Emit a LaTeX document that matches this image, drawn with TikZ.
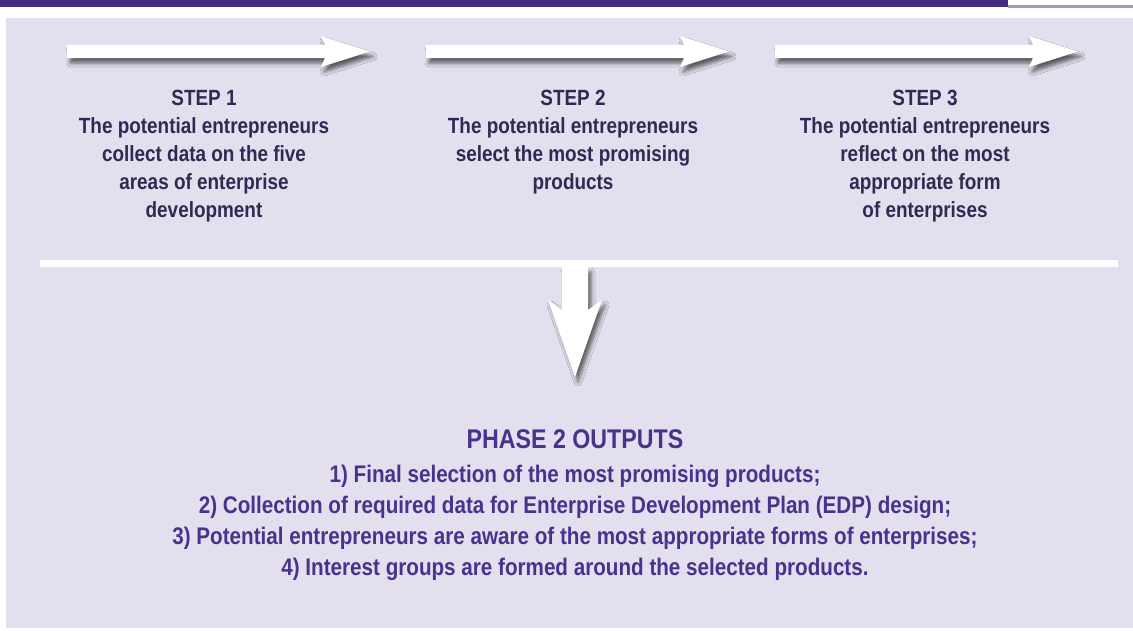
\documentclass[tikz,border=0pt]{standalone}
\usepackage{fontspec}
\setmainfont{Liberation Sans}[FakeStretch=0.86]
\usepackage{xcolor}
\usepackage{tikz}
\usetikzlibrary{positioning, shadows.blur}

\definecolor{bannerpurple}{HTML}{452C80}
\definecolor{bannerline}{HTML}{A395C8}
\definecolor{panel}{HTML}{E4DFEE}
\definecolor{stepink}{HTML}{2D2B52}
\definecolor{outink}{HTML}{47328C}

\begin{document}
\begin{tikzpicture}[
        x=1pt, y=-1pt,
        steptext/.style={align=center, inner sep=0pt, anchor=north, text=stepink, font=\fontsize{22}{28}\selectfont\bfseries},
        heading/.style={inner sep=0pt, anchor=north, text=outink, font=\fontsize{27}{32}\selectfont\bfseries},
        outlist/.style={align=center, inner sep=0pt, text=outink, font=\fontsize{24}{31}\selectfont\bfseries},
        bigarrow/.style={fill=white, blur shadow={shadow xshift=3pt, shadow yshift=-5pt, shadow blur radius=4pt, shadow opacity=60}}
    ]
    \useasboundingbox (0,0) rectangle (1133,630);

    % banner and panel
    \fill[bannerpurple] (0,0) rectangle (1008,7);
    \fill[bannerline] (1008,5) rectangle (1133,8);
    \fill[panel] (6,18) rectangle (1133,628);

    % step arrows
    \foreach \x in {67,426,775}
        \fill[bigarrow] (\x,45) -- (\x+258,45) -- (\x+254,36) -- (\x+303,51.5) -- (\x+254,67) -- (\x+258,58) -- (\x,58) -- cycle;

    \node (step1) [steptext] at (204,90) {STEP 1\\The potential entrepreneurs\\collect data on the five\\areas of enterprise\\development};
    \node (step2) [steptext] at (573,90) {STEP 2\\The potential entrepreneurs\\select the most promising\\products};
    \node (step3) [steptext] at (925,90) {STEP 3\\The potential entrepreneurs\\reflect on the most\\appropriate form\\of enterprises};

    % merge bar and down arrow
    \fill[bigarrow] (562,267) -- (562,310) -- (548,300) -- (575,377) -- (602,300) -- (588,310) -- (588,267) -- cycle;
    \fill[white] (40,260) rectangle (1118,267);

    \node (phase) [heading] at (575,429) {PHASE 2 OUTPUTS};
    \node (outputs) [outlist, below=16pt of phase] {1) Final selection of the most promising products;\\
        2) Collection of required data for Enterprise Development Plan (EDP) design;\\
        3) Potential entrepreneurs are aware of the most appropriate forms of enterprises;\\
        4) Interest groups are formed around the selected products.};

\end{tikzpicture}
\end{document}
